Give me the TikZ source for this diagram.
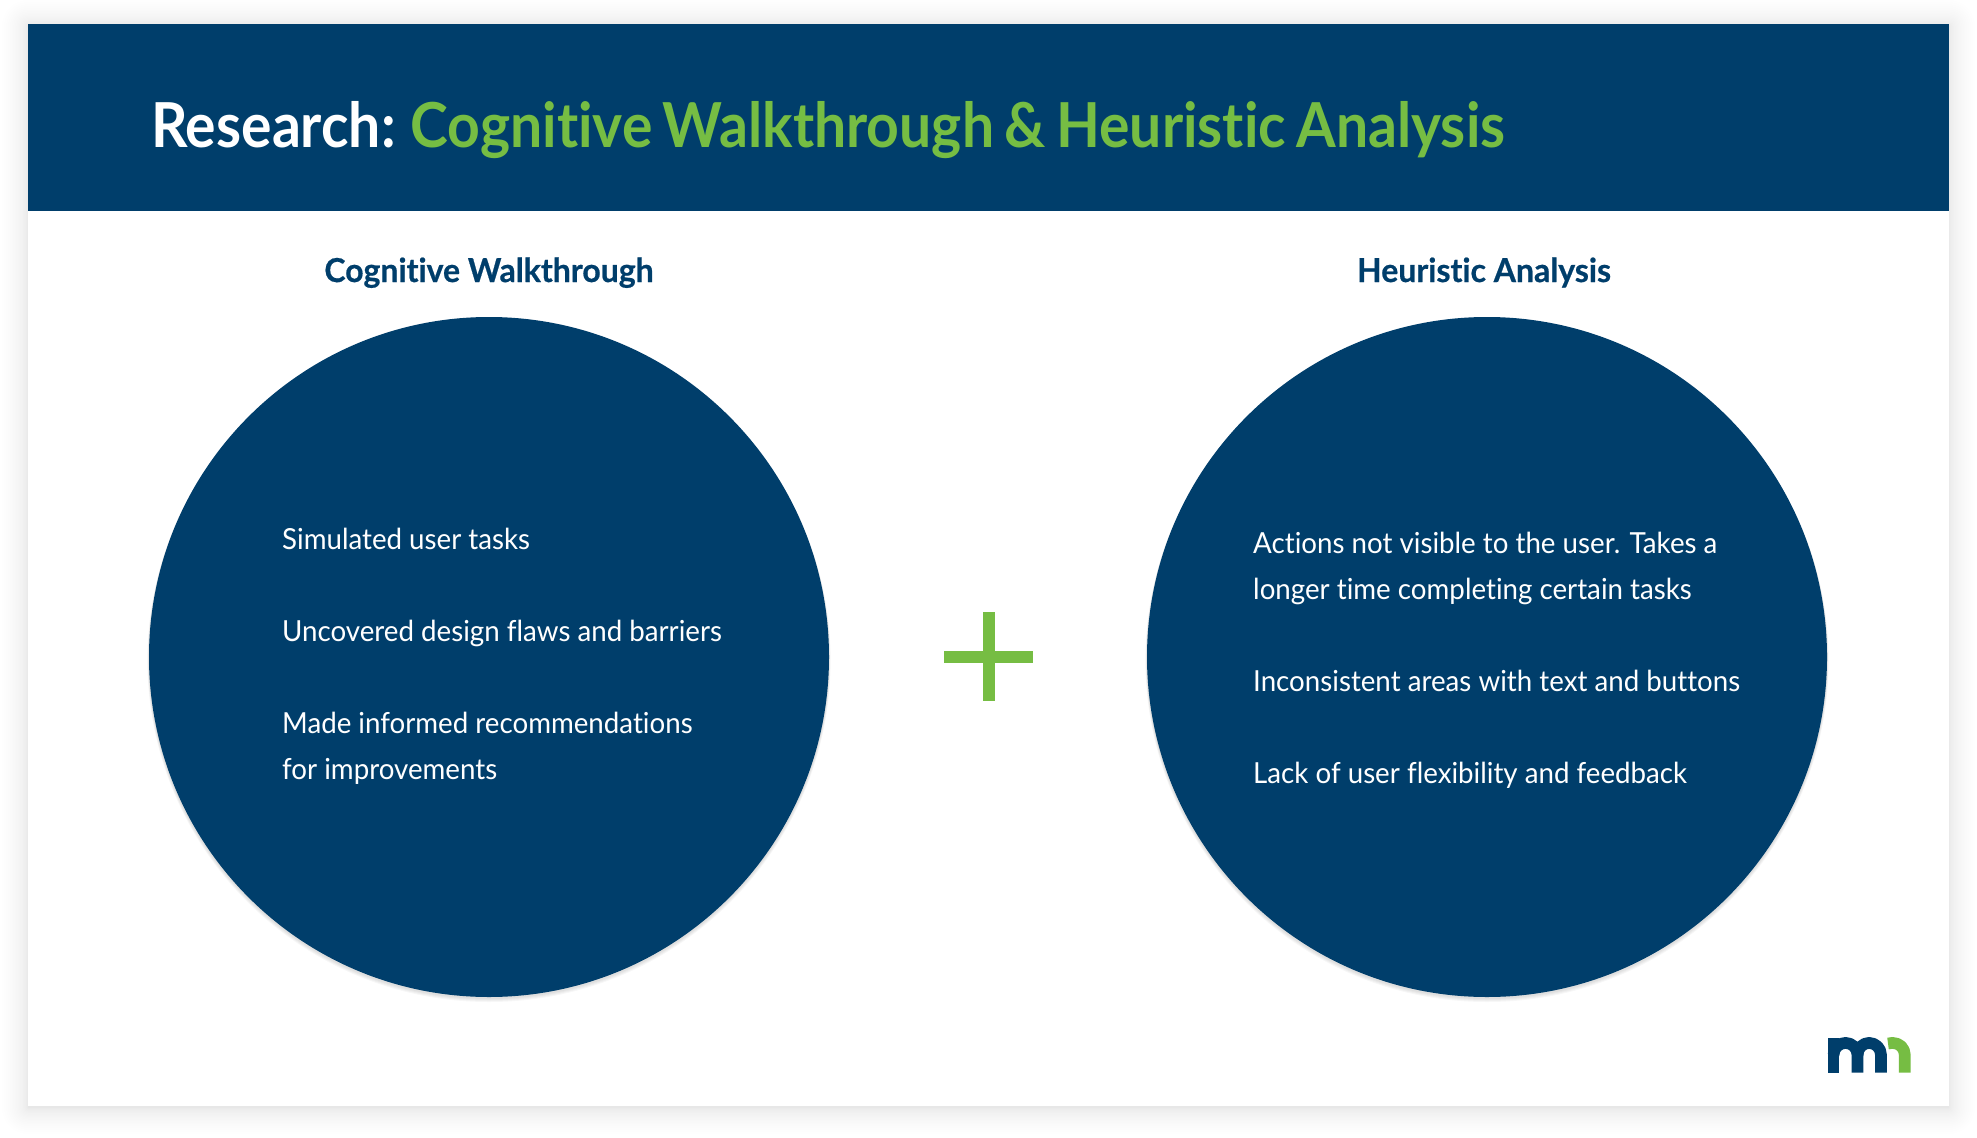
\documentclass[tikz,border=0pt]{standalone}
\usepackage{fontspec}
\setmainfont{Lato}[Ligatures=NoCommon]
\newfontfamily\titlefont{Lato}[Ligatures=NoCommon,FakeStretch=0.92,WordSpace=0.75]
\newfontfamily\headfont{Lato}[Ligatures=NoCommon,FakeStretch=0.97,FakeBold=0.6]
\newfontfamily\bodyfont{Lato}[Ligatures=NoCommon,FakeStretch=0.955]
\definecolor{navy}{RGB}{0,62,107}
\definecolor{leaf}{RGB}{118,189,67}
\tikzset{
  x=1pt,y=-1pt,
  bullet/.style={anchor=base west,inner sep=0pt,text=white,font=\bodyfont\fontsize{29}{37}\selectfont},
  head/.style={anchor=base,inner sep=0pt,text=navy,font=\headfont\fontsize{33}{40}\selectfont\bfseries},
  bigdisc/.style={circle,fill=navy,draw=none,minimum size=680pt,inner sep=0pt},
  logostroke/.style={line width=11.7pt,line cap=butt,line join=round}
}
\begin{document}
\begin{tikzpicture}
\useasboundingbox (0,0) rectangle (1977,1137);
\fill[white] (0,0) rectangle (1977,1137);
% soft panel shadow
\foreach \i in {1,...,24}{
  \pgfmathsetmacro{\r}{26*(\i/24)^2}
  \fill[black,opacity=0.0055,rounded corners=\r pt] (28-\r,24-\r+2) rectangle (1949+\r,1106+\r+2);
}
\fill[white] (28,24) rectangle (1949,1106);
\fill[navy] (28,24) rectangle (1949,211);
\node[anchor=base west,inner sep=0pt,font=\titlefont\fontsize{62}{70}\selectfont\bfseries] (title) at (151,147)
  {\textcolor{white}{Research:} \textcolor{leaf}{Cognitive Walkthrough \& Heuristic Analysis}};
\node[head] (lhead) at (489,282) {Cognitive Walkthrough};
\node[head] (rhead) at (1484,282) {Heuristic Analysis};
% disc shadows
\foreach \i in {1,...,4}{
  \fill[black,opacity=0.03] (489,658+\i*0.6) circle[radius=340+\i*0.4];
  \fill[black,opacity=0.03] (1487,658+\i*0.6) circle[radius=340+\i*0.4];
}
\node[bigdisc] (ldisc) at (489,657) {};
\node[bigdisc] (rdisc) at (1487,657) {};
\node[bullet] (l1) at (282,549) {Simulated user tasks};
\node[bullet] (l2) at (282,641) {Uncovered design flaws and barriers};
\node[bullet] (l3) at (282,733) {Made informed recommendations};
\node[bullet] (l4) at (282,779) {for improvements};
\node[bullet] (r1) at (1253,553) {Actions not visible to the user. Takes a};
\node[bullet] (r2) at (1253,599) {longer time completing certain tasks};
\node[bullet] (r3) at (1253,691) {Inconsistent areas with text and buttons};
\node[bullet] (r4) at (1253,783) {Lack of user flexibility and feedback};
% plus
\fill[leaf] (944,650.5) rectangle (1033,662.5);
\fill[leaf] (982.5,612) rectangle (994.5,701);
% logo
\draw[navy,logostroke] (1833.5,1072.7) -- (1833.5,1037.5);
\draw[navy,logostroke] (1833.5,1055) .. controls (1833.5,1048) and (1839,1042.9) .. (1845.5,1042.9) .. controls (1852,1042.9) and (1857.5,1048) .. (1857.5,1055) -- (1857.5,1072.7);
\draw[navy,logostroke] (1857.5,1055) .. controls (1857.5,1048) and (1863,1042.9) .. (1869,1042.9) .. controls (1875.5,1042.9) and (1881,1048) .. (1881,1055) -- (1881,1072.7);
\draw[leaf,logostroke] (1888,1043.5) .. controls (1890,1043) and (1891,1042.9) .. (1892.5,1042.9) .. controls (1899.5,1042.9) and (1904.8,1048) .. (1904.8,1055) -- (1904.8,1072.7);
\end{tikzpicture}
\end{document}
